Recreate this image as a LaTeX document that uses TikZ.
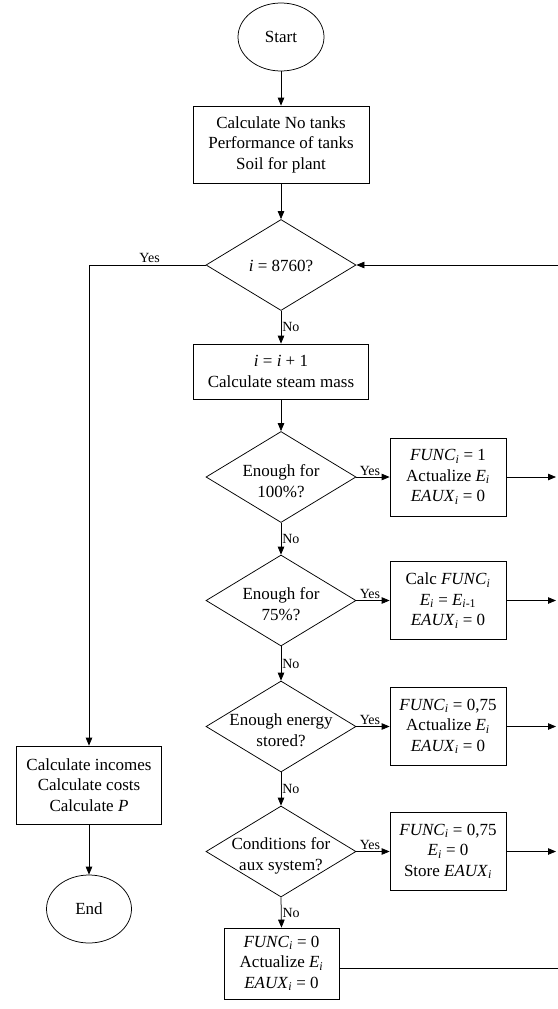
\documentclass[tikz,border=0pt]{standalone}
\usepackage{fontspec}
\setmainfont{Liberation Serif}
\usetikzlibrary{shapes.geometric,arrows.meta}
\newcommand{\sbi}[1]{\textsubscript{\textit{#1}}}
\begin{document}
\begin{tikzpicture}[x=1pt,y=-1pt, line width=0.75pt,
  every node/.style={font=\fontsize{17}{20.5}\selectfont},
  proc/.style={draw, rectangle, inner sep=0pt, align=center},
  rbox/.style={proc, minimum width=116pt, minimum height=78pt},
  term/.style={draw, ellipse, inner sep=0pt, minimum width=86pt, minimum height=68pt},
  dec/.style={draw, diamond, inner sep=0pt, minimum width=150pt, minimum height=91pt},
  dtxt/.style={align=center, inner sep=0pt},
  lbl/.style={font=\fontsize{14}{16}\selectfont, inner sep=1pt},
  arr/.style={-{Triangle[length=8pt,width=6.5pt]}}
]
\useasboundingbox (0,0) rectangle (557,1009);
\fill[white] (0,0) rectangle (557,1009);

% main column
\node[term] (start) at (281,37) {Start};
\node[proc, minimum width=176pt, minimum height=77pt] (calc) at (281,144.5)
  {Calculate No tanks\\Performance of tanks\\Soil for plant};
\node[dec] (d1) at (281,265) {};
\node[dtxt] (t1) at (281,266) {\textit{i} = 8760?};
\node[proc, minimum width=175pt, minimum height=55pt] (inc1) at (281,371.5)
  {\textit{i} = \textit{i} + 1\\Calculate steam mass};

\node[dec] (d2) at (281,477) {};
\node[dtxt] (t2) at (281,481) {Enough for\\100\%?};
\node[rbox] (r1) at (448,477)
  {\textit{FUNC}\sbi{i} = 1\\Actualize \textit{E}\sbi{i}\\\textit{EAUX}\sbi{i} = 0};

\node[dec] (d3) at (281,600.5) {};
\node[dtxt] (t3) at (281,604) {Enough for\\75\%?};
\node[rbox] (r2) at (448,600.5)
  {Calc \textit{FUNC}\sbi{i}\\\textit{E}\sbi{i} = \textit{E}\textsubscript{\textit{i}-1}\\\textit{EAUX}\sbi{i} = 0};

\node[dec] (d4) at (281,726.5) {};
\node[dtxt] (t4) at (281,730) {Enough energy\\stored?};
\node[rbox] (r3) at (448,726.5)
  {\textit{FUNC}\sbi{i} = 0,75\\Actualize \textit{E}\sbi{i}\\\textit{EAUX}\sbi{i} = 0};

\node[dec] (d5) at (281,851.5) {};
\node[dtxt] (t5) at (281,856) {Conditions for\\aux system?};
\node[rbox] (r4) at (448,851.5)
  {\textit{FUNC}\sbi{i} = 0,75\\\textit{E}\sbi{i} = 0\\Store \textit{EAUX}\sbi{i}};

\node[proc, minimum width=115pt, minimum height=71pt] (r5) at (281.5,963.5)
  {\textit{FUNC}\sbi{i} = 0\\Actualize \textit{E}\sbi{i}\\\textit{EAUX}\sbi{i} = 0};

% left column
\node[proc, minimum width=145pt, minimum height=78pt] (fin) at (89,785)
  {Calculate incomes\\Calculate costs\\Calculate \textit{P}};
\node[term, minimum width=85pt] (end) at (89,909) {End};

% helper coordinates at the right edge (return line lies just outside the frame)
\coordinate (rx) at (556,0);
\coordinate (ry) at (562,0);
\coordinate (r5o) at ([yshift=-4.5pt]r5.east);

% connectors
\draw[arr] (start) -- (calc);
\draw[arr] (calc) -- (d1);
\draw[arr] (d1.south) -- node[lbl, right, midway] (n1) {No} (inc1.north);
\draw[arr] (inc1.south) -- (d2.north);
\draw[arr] (d2.south) -- node[lbl, right, midway] (n2) {No} (d3.north);
\draw[arr] (d3.south) -- node[lbl, right, midway] (n3) {No} (d4.north);
\draw[arr] (d4.south) -- node[lbl, right, midway] (n4) {No} (d5.north);
\draw[arr] (d5.south) -- node[lbl, right, midway] (n5) {No} (r5.north);

\draw[arr] (d2.east) -- node[lbl, anchor=south west, pos=0, xshift=2pt] (y2) {Yes} (r1.west);
\draw[arr] (d3.east) -- node[lbl, anchor=south west, pos=0, xshift=2pt] (y3) {Yes} (r2.west);
\draw[arr] (d4.east) -- node[lbl, anchor=south west, pos=0, xshift=2pt] (y4) {Yes} (r3.west);
\draw[arr] (d5.east) -- node[lbl, anchor=south west, pos=0, xshift=2pt] (y5) {Yes} (r4.west);

\draw[arr] (r1.east) -- (r1.east -| rx);
\draw[arr] (r2.east) -- (r2.east -| rx);
\draw[arr] (r3.east) -- (r3.east -| rx);
\draw[arr] (r4.east) -- (r4.east -| rx);

\draw[arr] (r5o) -- (r5o -| ry) -- (ry |- d1.east) -- (d1.east);

\draw[arr] (d1.west) -| node[lbl, pos=0.24, above, inner sep=2pt] (y1) {Yes} (fin.north);
\draw[arr] (fin) -- (end);
\end{tikzpicture}
\end{document}
